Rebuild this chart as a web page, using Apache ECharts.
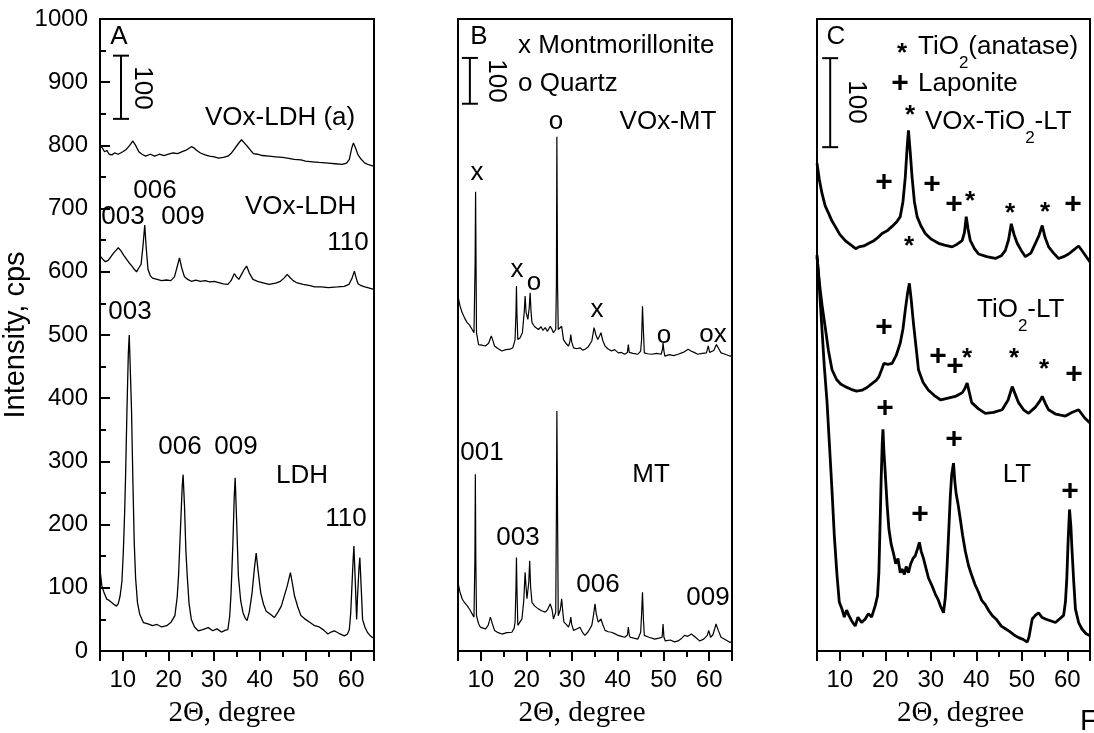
<!DOCTYPE html>
<html>
<head>
<meta charset="utf-8">
<title>XRD patterns</title>
<script src="https://cdn.jsdelivr.net/npm/echarts@6/dist/echarts.min.js"></script>
<style>
  html, body { margin: 0; padding: 0; background: #fff; }
  #chart { width: 1094px; height: 733px; }
</style>
</head>
<body>
<div id="chart"></div>
<script>
// ---- patterns, [2theta, counts] ----
// panel A (counts on the left axis)
const voxLdhA = [[5,800],[5.5,796],[6,790],[6.5,792],[7,786],[7.6,785],[8.2,788],[9,786],[10,790],[10.8,794],[11.5,800],[12.2,807],[12.8,800],[13.5,790],[14.2,786],[15,783],[16,786],[17,783],[18,786],[19,784],[20,786],[21,788],[22,787],[23,790],[24,793],[25,798],[25.6,796],[26.2,792],[27,788],[28,785],[29,783],[30,782],[31,780],[32,781],[33,783],[33.8,788],[34.5,795],[35.3,803],[36,809],[36.6,804],[37.2,799],[38,792],[38.6,787],[39.5,786],[40.5,784],[42,783],[43.5,782],[45,781],[46,780],[47.5,778],[49,777],[50,775],[51.5,774],[53,773],[55,772],[56.5,771],[58,770],[59,772],[59.6,778],[60.1,795],[60.5,804],[61,795],[61.5,785],[62.2,778],[63,772],[64,769],[65,767]];
const voxLdh = [[5,625],[5.6,620],[6.2,616],[6.8,618],[7.4,624],[8,630],[8.5,634],[9,638],[9.6,633],[10.2,626],[10.8,620],[11.4,614],[12,609],[12.5,604],[13,600],[13.5,606],[14,612],[14.4,640],[14.8,674],[15.1,640],[15.5,604],[16,594],[16.5,590],[17.5,588],[18.5,586],[19.5,587],[20.5,586],[21.3,592],[21.9,608],[22.4,622],[22.9,606],[23.5,592],[24.2,588],[25,585],[26,587],[27,585],[28,586],[29,584],[30,585],[31,583],[32,581],[33,580],[33.7,586],[34.4,597],[34.9,592],[35.4,588],[36,596],[36.6,604],[37.1,609],[37.7,598],[38.5,588],[39.5,585],[40.5,583],[42,580],[43.5,582],[44.5,585],[45.3,590],[46,596],[46.6,591],[47.3,586],[48,583],[49.5,580],[51,578],[52,576],[53.5,576],[55,575],[57,576],[58.5,577],[59.5,580],[60.2,590],[60.7,601],[61.1,590],[61.5,581],[62.2,578],[63,576],[64,574],[65,572]];
const ldh = [[5,129],[5.4,103],[5.9,92],[6.5,82],[7,80],[7.5,77],[8,74],[8.6,71],[9,75],[9.4,87],[9.8,110],[10.1,155],[10.4,220],[10.6,276],[10.9,380],[11.2,470],[11.4,500],[11.7,430],[11.9,382],[12.2,270],[12.5,171],[12.8,115],[13.2,77],[13.7,58],[14.5,45],[15.5,43],[16.5,40],[17.5,42],[18.5,38],[19.6,40],[20.5,45],[21.4,56],[21.9,85],[22.2,119],[22.6,190],[23,260],[23.2,279],[23.5,230],[23.8,160],[24.1,119],[24.5,75],[25,50],[25.7,38],[26.5,32],[27.5,34],[28.7,37],[29.7,32],[30.6,35],[31.6,30],[32.5,33],[33,34],[33.4,55],[33.7,92],[34.1,170],[34.4,245],[34.6,274],[34.9,210],[35.3,119],[35.8,80],[36.3,61],[36.8,52],[37.2,48],[37.7,62],[38.3,92],[38.8,130],[39.2,155],[39.6,128],[40.2,92],[40.8,74],[41.4,63],[42.3,58],[43.2,53],[44,62],[44.7,71],[45.4,88],[46,103],[46.7,124],[47.1,108],[47.6,87],[48.3,70],[49,56],[50,50],[51,45],[52,40],[53,38],[54,33],[54.9,27],[55.6,30],[56.3,32],[57.3,28],[58.5,24],[59.2,27],[59.6,34],[59.9,60],[60.1,92],[60.4,140],[60.6,166],[60.9,110],[61.2,50],[61.4,87],[61.7,130],[61.9,148],[62.2,100],[62.5,50],[63,38],[63.6,29],[64.2,24],[64.7,21],[65,22]];

// panel B (own scale, see the 100 bar)
const voxMt = [[5,775],[5.4,755],[5.9,739],[6.4,728],[7,717],[7.5,712],[8.1,702],[8.5,695],[8.75,850],[8.85,1003],[8.95,850],[9.05,695],[9.5,669],[10.2,668],[11,666],[11.7,672],[12.3,688],[12.7,676],[13,666],[13.8,660],[14.6,655],[15.5,658],[16.4,659],[17,662],[17.5,680],[17.7,740],[17.8,797],[17.9,740],[18.1,680],[18.6,684],[19.1,695],[19.5,740],[19.7,775],[19.9,740],[20.3,724],[20.6,750],[20.8,782],[21,740],[21.2,717],[21.8,708],[22.6,702],[23.2,708],[23.6,700],[24.1,706],[24.6,698],[25.2,709],[25.6,702],[25.9,695],[26.4,702],[26.55,800],[26.65,1123],[26.8,800],[26.95,702],[27.3,706],[27.7,709],[28.1,680],[28.6,672],[29.2,666],[29.5,675],[29.7,691],[29.9,675],[30.3,662],[31,660],[31.7,662],[32.3,657],[32.8,659],[33.5,664],[34.3,677],[34.8,706],[35.2,690],[35.6,680],[36,688],[36.3,695],[36.7,678],[37.2,666],[37.8,660],[38.6,655],[39.3,658],[40.1,651],[40.8,652],[41.5,648],[42.1,652],[42.3,669],[42.5,652],[43.3,650],[44.4,648],[45,655],[45.2,680],[45.4,753],[45.6,700],[45.8,651],[46.5,649],[47.4,648],[48.5,650],[49.5,648],[49.8,660],[49.9,673],[50.1,655],[50.3,644],[51.3,647],[52.2,645],[53.2,648],[54.3,652],[55.4,659],[56,655],[56.7,652],[57.5,648],[58.5,650],[59.4,651],[59.8,666],[60.1,652],[60.5,650],[61,656],[61.6,669],[62.1,660],[62.6,651],[63.5,648],[64.5,644],[65,645]];
const mt = [[5,150],[5.4,130],[5.9,114],[6.4,106],[7,99],[7.6,90],[8.1,81],[8.5,74],[8.7,200],[8.8,386],[8.9,200],[9.05,77],[9.5,60],[9.9,52],[10.5,50],[11,48],[11.6,56],[12.1,74],[12.5,60],[13,45],[13.8,40],[14.6,37],[15.7,40],[16.8,41],[17.3,50],[17.5,63],[17.7,140],[17.8,204],[17.9,140],[18.1,56],[18.5,60],[19,70],[19.4,110],[19.7,172],[19.9,140],[20.1,114],[20.5,150],[20.7,197],[20.9,140],[21.2,106],[21.8,98],[22.6,92],[23.3,88],[24.1,85],[24.6,90],[25.2,103],[25.6,90],[25.9,70],[26.4,85],[26.55,300],[26.65,524],[26.8,300],[26.95,77],[27.4,90],[27.7,114],[28,80],[28.2,63],[28.7,58],[29.2,52],[29.5,62],[29.7,74],[29.9,58],[30.3,45],[31,48],[31.7,52],[32.3,40],[32.8,34],[33.5,42],[34.3,56],[34.7,80],[35,103],[35.3,80],[35.7,63],[36,66],[36.3,70],[36.7,58],[37.2,45],[37.9,42],[38.6,41],[39.3,38],[40.1,34],[40.8,32],[41.5,30],[42.1,35],[42.3,52],[42.5,35],[42.7,30],[43.5,28],[44.4,26],[45,41],[45.2,80],[45.4,128],[45.6,70],[45.8,34],[46.8,30],[48.1,26],[49,28],[49.7,30],[49.9,59],[50.1,30],[50.4,22],[51.5,24],[52.4,20],[53.2,22],[54,28],[54.6,34],[55.3,32],[56.1,37],[57,30],[57.9,22],[58.8,26],[59.6,34],[59.9,45],[60.3,30],[60.8,35],[61.2,48],[61.5,59],[62,45],[62.6,30],[63.5,25],[64.5,19],[65,20]];

// panel C (own scale)
const voxTiLt = [[5,548],[5.5,530],[6.1,514],[6.8,500],[7.6,491],[8.3,483],[9,477],[10,468],[11.2,461],[12.5,456],[13.5,452],[14.2,454],[15.3,455],[16.4,458],[17.5,461],[18.5,465],[19.3,469],[20.4,472],[21.5,477],[22.5,482],[23.3,488],[23.9,505],[24.4,532],[24.8,565],[25.1,585],[25.5,560],[25.9,532],[26.4,505],[27,488],[27.8,478],[28.8,469],[30,463],[31.7,458],[33,456],[34.7,454],[35.8,457],[36.9,461],[37.4,470],[37.8,488],[38.2,474],[38.7,461],[39.6,452],[40.5,446],[42.3,443],[44.2,441],[45.5,444],[46.4,450],[47.1,462],[47.7,480],[48.3,468],[49,458],[50,449],[50.8,443],[52,447],[53,458],[53.8,467],[54.5,478],[55.1,465],[55.9,454],[57,447],[58.1,441],[59.2,443],[60.3,446],[61.5,451],[62.5,455],[63.5,448],[64.3,442],[65,437]];
const tiLt = [[5,443],[5.6,410],[6.2,385],[6.8,364],[7.5,338],[8.3,316],[9.3,305],[10.2,300],[11.2,297],[12.5,294],[13.7,292],[14.9,293],[16,296],[17,300],[18,304],[18.6,308],[19.2,316],[19.7,323],[20.6,322],[21.5,323],[22.4,332],[23.3,346],[23.9,362],[24.4,383],[24.9,402],[25.3,413],[25.7,395],[26.2,368],[26.8,340],[27.3,316],[28.3,302],[29.5,293],[30.8,287],[32.2,282],[33.8,284],[35.4,286],[36.9,290],[37.5,295],[38,301],[38.5,290],[39,279],[40.5,272],[42,267],[43.8,268],[45.7,271],[47,282],[47.9,297],[48.6,288],[49.3,279],[50.4,271],[51.5,267],[53,274],[54,281],[54.5,286],[55.2,278],[55.9,271],[57.5,266],[59.6,264],[61,268],[62.5,271],[63.8,262],[65,256]];
const lt = [[5,445],[5.5,410],[6.1,361],[6.6,320],[7.2,280],[7.7,235],[8.3,180],[8.8,130],[9.4,85],[9.9,55],[10.5,47],[11,38],[11.5,46],[12,40],[12.6,34],[13.4,28],[14,38],[14.8,32],[15.6,36],[16.3,42],[17,38],[17.8,51],[18.3,62],[18.6,88],[18.9,150],[19.1,193],[19.35,235],[19.5,249],[19.7,225],[20,200],[20.4,165],[20.8,137],[21.3,120],[21.8,110],[22.3,98],[22.8,104],[23.3,88],[23.7,92],[24.2,86],[24.6,95],[25.1,88],[25.6,98],[26.1,104],[26.6,107],[27.1,115],[27.5,122],[27.9,112],[28.4,104],[28.8,96],[29.5,82],[30.3,73],[31,64],[31.6,58],[32.1,51],[32.8,43],[33.2,60],[33.6,96],[34,140],[34.3,174],[34.6,198],[35,211],[35.3,190],[35.6,176],[36,165],[36.5,148],[37,130],[37.6,112],[38.3,96],[39,85],[39.7,75],[40.5,66],[41.2,57],[42,52],[42.8,45],[43.5,40],[44.5,35],[45.5,28],[46.4,25],[47.3,22],[48.3,18],[49.3,15],[50.3,13],[51.2,10],[51.6,16],[52.3,36],[53,40],[53.7,43],[54.4,38],[55.2,36],[56.3,34],[57.4,32],[58.3,36],[59.2,40],[59.6,55],[59.9,81],[60.2,125],[60.5,159],[60.8,140],[61,118],[61.4,80],[61.8,47],[62.5,32],[63.2,25],[64,20],[65,17]];

// 100-count scale bars, one per panel
const barA = [[9.6, 842], [9.6, 942]];
const barB = [[7.6, 1195], [7.6, 1295]];
const barC = [[7.9, 566], [7.9, 666]];

const yMaxA = 1000, yMaxB = 1380, yMaxC = 710;

const SANS = '"Liberation Sans", Arial, sans-serif';
const SERIF = '"Liberation Serif", "Times New Roman", serif';

const grids = [
    { left: 100, top: 19, width: 274, height: 633 },
    { left: 458, top: 19, width: 274, height: 633 },
    { left: 817, top: 19, width: 273, height: 633 }
];
// x title boxes are a bit off-centre in the original
const titlePad = [[0, 10, 0, 0], [0, 26, 0, 0], [0, 0, 0, 14]];

const xAxes = grids.map((g, i) => ({
    type: 'value', gridIndex: i, min: 5, max: 65, splitNumber: 6,
    axisLine: { lineStyle: { color: '#000', width: 2 } },
    axisTick: { length: 10, lineStyle: { color: '#000', width: 2 } },
    minorTick: { show: true, splitNumber: 2, length: 6, lineStyle: { color: '#000', width: 2 } },
    splitLine: { show: false },
    axisLabel: {
        margin: 17, color: '#000', fontFamily: SANS, fontSize: 24,
        formatter: v => (v % 10 === 0 ? String(v) : '')
    },
    name: '2\u0398, degree', nameLocation: 'middle', nameGap: 48,
    nameTextStyle: { fontFamily: SERIF, fontSize: 29, color: '#000', padding: titlePad[i] }
}));

const yAxes = [
    {
        type: 'value', gridIndex: 0, min: 0, max: yMaxA, interval: 100,
        axisLine: { show: true, lineStyle: { color: '#000', width: 2 } },
        axisTick: { inside: true, length: 10, lineStyle: { color: '#000', width: 2 } },
        minorTick: { show: true, splitNumber: 2, length: 6, lineStyle: { color: '#000', width: 2 } },
        splitLine: { show: false },
        axisLabel: { margin: 12, color: '#000', fontFamily: SANS, fontSize: 24, formatter: v => String(v) },
        name: 'Intensity, cps', nameLocation: 'middle', nameGap: 64,
        nameTextStyle: { fontFamily: SANS, fontSize: 29, color: '#000' }
    },
    { type: 'value', gridIndex: 1, min: 0, max: yMaxB },
    { type: 'value', gridIndex: 2, min: 0, max: yMaxC }
];
[1, 2].forEach(i => {
    Object.assign(yAxes[i], {
        axisLine: { show: true, lineStyle: { color: '#000', width: 2 } },
        axisTick: { show: false }, axisLabel: { show: false }, splitLine: { show: false }
    });
});

function trace(data, gi, width) {
    return {
        type: 'line', data: data, xAxisIndex: gi, yAxisIndex: gi,
        showSymbol: false, symbol: 'none', animation: false, silent: true,
        lineStyle: { color: '#000', width: width }
    };
}
function scaleBar(data, gi) {
    return {
        type: 'line', data: data, xAxisIndex: gi, yAxisIndex: gi,
        symbol: 'rect', symbolSize: [16, 2], showSymbol: true, animation: false, silent: true,
        itemStyle: { color: '#000' }, lineStyle: { color: '#000', width: 2 }
    };
}

// ---- text annotations ----
const measureCtx = document.createElement('canvas').getContext('2d');
function txt(s, x, y, size, opt) {
    opt = opt || {};
    return {
        type: 'text', x: x, y: y, rotation: opt.rot || 0, z: 20,
        style: {
            text: s, fill: '#000', align: opt.align || 'center', verticalAlign: 'middle',
            font: (opt.bold ? 'bold ' : '') + size + 'px ' + SANS
        }
    };
}
// text with Origin-style deep subscripts: parts = [[str, isSub], ...]
function subTxt(parts, left, y, size) {
    const out = [];
    let x = left;
    parts.forEach(p => {
        const fs = p[1] ? 17 : size;
        measureCtx.font = fs + 'px ' + SANS;
        out.push(txt(p[0], x, p[1] ? y + 16 : y, fs, { align: 'left' }));
        x += measureCtx.measureText(p[0]).width;
    });
    return out;
}
const ROT = -Math.PI / 2;
const F = 26;
const graphic = [
    // panel A
    txt('A', 119, 37, F), txt('100', 142, 88, F, { rot: ROT }),
    txt('VOx-LDH (a)', 205, 118, F, { align: 'left' }),
    txt('006', 155, 191, F), txt('003', 123, 217, F), txt('009', 183, 217, F),
    txt('VOx-LDH', 245, 207, F, { align: 'left' }), txt('110', 348, 243, F),
    txt('003', 130, 312, F),
    txt('006', 180, 447, F), txt('009', 236, 447, F),
    txt('LDH', 302, 476, F), txt('110', 346, 519, F),
    // panel B
    txt('B', 479, 37, F), txt('100', 496, 81, F, { rot: ROT }),
    txt('x Montmorillonite', 518, 46, F, { align: 'left' }),
    txt('o Quartz', 518, 84, F, { align: 'left' }),
    txt('o', 556, 122, F), txt('VOx-MT', 668, 122, F),
    txt('x', 477, 173, F), txt('x', 517, 270, F), txt('o', 534, 283, F),
    txt('x', 597, 310, F), txt('o', 664, 336, F), txt('ox', 713, 335, F),
    txt('001', 482, 453, F), txt('MT', 651, 475, F), txt('003', 518, 538, F),
    txt('006', 598, 585, F), txt('009', 708, 598, F),
    // panel C
    txt('C', 836, 37, F), txt('100', 856, 102, F, { rot: ROT }),
    txt('*', 902, 54, F, { bold: true }),
    ...subTxt([['TiO', 0], ['2', 1], ['(anatase)', 0]], 918, 47, F),
    txt('+', 900, 84, 30, { bold: true }),
    txt('Laponite', 918, 84, F, { align: 'left' }),
    txt('*', 910, 116, F, { bold: true }),
    ...subTxt([['VOx-TiO', 0], ['2', 1], ['-LT', 0]], 925, 122, F),
    txt('+', 884, 183, 30, { bold: true }), txt('+', 932, 185, 30, { bold: true }),
    txt('+', 954, 205, 30, { bold: true }), txt('*', 970, 202, F, { bold: true }),
    txt('*', 1010, 214, F, { bold: true }), txt('*', 1045, 213, F, { bold: true }),
    txt('+', 1073, 205, 30, { bold: true }), txt('*', 909, 247, F, { bold: true }),
    ...subTxt([['TiO', 0], ['2', 1], ['-LT', 0]], 977, 310, F),
    txt('+', 884, 328, 30, { bold: true }), txt('+', 938, 357, 30, { bold: true }),
    txt('+', 955, 367, 30, { bold: true }), txt('*', 967, 359, F, { bold: true }),
    txt('*', 1014, 359, F, { bold: true }), txt('*', 1044, 370, F, { bold: true }),
    txt('+', 1074, 375, 30, { bold: true }),
    txt('+', 885, 409, 30, { bold: true }), txt('+', 954, 440, 30, { bold: true }),
    txt('LT', 1017, 475, F), txt('+', 920, 515, 30, { bold: true }),
    txt('+', 1070, 492, 30, { bold: true }),
    txt('F', 1080, 722, 29, { align: 'left' })
];

const option = {
    backgroundColor: '#fff',
    animation: false,
    grid: grids.map(g => Object.assign({ show: true, borderColor: '#000', borderWidth: 2, containLabel: false }, g)),
    xAxis: xAxes,
    yAxis: yAxes,
    series: [
        trace(voxLdhA, 0, 1.3), trace(voxLdh, 0, 1.3), trace(ldh, 0, 1.3), scaleBar(barA, 0),
        trace(voxMt, 1, 1.2), trace(mt, 1, 1.2), scaleBar(barB, 1),
        trace(voxTiLt, 2, 2.8), trace(tiLt, 2, 2.8), trace(lt, 2, 2.8), scaleBar(barC, 2)
    ],
    graphic: graphic
};

const myChart = echarts.init(document.getElementById('chart'), null, { renderer: 'canvas' });
myChart.setOption(option);
</script>
</body>
</html>
